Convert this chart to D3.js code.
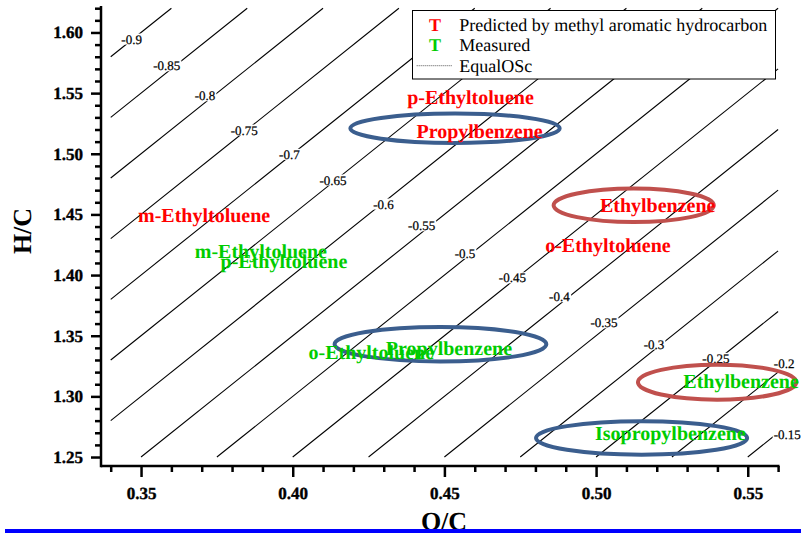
<!DOCTYPE html>
<html>
<head>
<meta charset="utf-8">
<script src="https://cdn.jsdelivr.net/npm/d3@7"></script>
<style>
  html, body { margin: 0; padding: 0; background: #fff; }
  svg { display: block; }
  text { text-rendering: geometricPrecision; }
</style>
</head>
<body>
<svg id="chart" width="801" height="539"></svg>
<script>
// ---------- data ----------
const xMajorTicks = [0.35, 0.40, 0.45, 0.50, 0.55];
const yMajorTicks = [1.25, 1.30, 1.35, 1.40, 1.45, 1.50, 1.55, 1.60];
const xMinorTicks = [0.34,0.36,0.37,0.38,0.39,0.41,0.42,0.43,0.44,0.46,0.47,0.48,0.49,0.51,0.52,0.53,0.54,0.56];
const yMinorTicks = [1.26,1.27,1.28,1.29,1.31,1.32,1.33,1.34,1.36,1.37,1.38,1.39,1.41,1.42,1.43,1.44,1.46,1.47,1.48,1.49,1.51,1.52,1.53,1.54,1.56,1.57,1.58,1.59,1.61,1.62];

// Iso-OSc lines: OSc = 2*O/C - H/C
const oscLevels = [-0.9,-0.85,-0.8,-0.75,-0.7,-0.65,-0.6,-0.55,-0.5,-0.45,-0.4,-0.35,-0.3,-0.25,-0.2,-0.15];
const oscLabelOC = [0.3469,0.3585,0.3711,0.3840,0.3989,0.4133,0.4299,0.4425,0.4568,0.4724,0.4879,0.5026,0.5191,0.5395,0.5620,0.5630];
const oscLabelHC = [1.5946,1.5726,1.5479,1.5196,1.4996,1.4784,1.4586,1.4407,1.4180,1.3978,1.3822,1.3607,1.3432,1.3314,1.3273,1.2690];
const oscGridOC = [0.34, 0.56];
const oscGridHC = [1.25, 1.62];

// Predicted by methyl aromatic hydrocarbon (red)
const predictedNames = ["p-Ethyltoluene","Propylbenzene","m-Ethyltoluene","Ethylbenzene","o-Ethyltoluene"];
const predictedOC = [0.4586, 0.4616, 0.3708, 0.5203, 0.5039];
const predictedHC = [1.5471, 1.5188, 1.4495, 1.4578, 1.4248];

// Measured (green)
const measuredNames = ["m-Ethyltoluene","p-Ethyltoluene","o-Ethyltoluene","Propylbenzene","Ethylbenzene","Isopropylbenzene"];
const measuredOC = [0.3895, 0.3971, 0.4259, 0.4515, 0.5478, 0.5245];
const measuredHC = [1.4198, 1.4116, 1.3366, 1.3396, 1.3129, 1.2696];

// Highlight ellipses (centre and half-axes in data units)
const ellipseOC = [0.4535, 0.5124, 0.4487, 0.5399, 0.5150];
const ellipseHC = [1.5210, 1.4575, 1.3430, 1.3117, 1.2657];
const ellipseROC = [0.0345, 0.0264, 0.0349, 0.0261, 0.0348];
const ellipseRHC = [0.0121, 0.0138, 0.0142, 0.0144, 0.0138];
const ellipseKind = ["blue","red","blue","red","blue"];

const legendLabels = ["Predicted by methyl aromatic hydrocarbon", "Measured", "EqualOSc"];

// ---------- drawing ----------
const svg = d3.select("#chart");
const serif = "'Liberation Serif', 'Times New Roman', serif";
const x = d3.scaleLinear().domain([0.3368, 0.5601]).range([101, 778.4]);
const y = d3.scaleLinear().domain([1.2426, 1.621]).range([466, 7]);

// contour lines
const gLines = svg.append("g");
oscLevels.forEach(L => {
  const lo = Math.max(oscGridOC[0], (oscGridHC[0] + L) / 2);
  const hi = Math.min(oscGridOC[1], (oscGridHC[1] + L) / 2);
  if (hi <= lo) return;
  gLines.append("line")
    .attr("x1", x(lo)).attr("y1", y(2 * lo - L))
    .attr("x2", x(hi)).attr("y2", y(2 * hi - L))
    .attr("stroke", "#000").attr("stroke-width", 1.1);
});

// contour labels with white background gap
const gLab = svg.append("g");
oscLevels.forEach((L, i) => {
  const g = gLab.append("g");
  const t = g.append("text")
    .attr("x", x(oscLabelOC[i])).attr("y", y(oscLabelHC[i]))
    .attr("dy", "0.35em")
    .attr("text-anchor", "middle")
    .attr("font-family", serif).attr("font-size", 13)
    .attr("fill", "#000").attr("stroke", "#000").attr("stroke-width", 0.25)
    .text(String(L));
  const bb = t.node().getBBox();
  g.insert("rect", "text")
    .attr("x", bb.x - 1).attr("y", bb.y + 2)
    .attr("width", bb.width + 2).attr("height", bb.height - 4)
    .attr("fill", "#fff");
});

// ellipses
const ellColor = { blue: "#3b5e8e", red: "#c0504d" };
svg.append("g").selectAll("ellipse").data(ellipseOC).join("ellipse")
  .attr("cx", (d, i) => x(d))
  .attr("cy", (d, i) => y(ellipseHC[i]))
  .attr("rx", (d, i) => x(d + ellipseROC[i]) - x(d))
  .attr("ry", (d, i) => y(ellipseHC[i]) - y(ellipseHC[i] + ellipseRHC[i]))
  .attr("fill", "none")
  .attr("stroke", (d, i) => ellColor[ellipseKind[i]])
  .attr("stroke-width", 4);

// compound labels
function drawLabels(names, ocs, hcs, color) {
  svg.append("g").selectAll("text").data(names).join("text")
    .attr("x", (d, i) => x(ocs[i]))
    .attr("y", (d, i) => y(hcs[i]))
    .attr("dy", "0.35em")
    .attr("text-anchor", "middle")
    .attr("font-family", serif).attr("font-weight", "bold").attr("font-size", 20)
    .attr("fill", color)
    .text(d => d);
}
drawLabels(predictedNames, predictedOC, predictedHC, "#ff0000");
drawLabels(measuredNames, measuredOC, measuredHC, "#00cc00");

// axes
function styleAxis(g) {
  g.attr("font-family", serif);
  g.select(".domain").remove();
  g.selectAll(".tick line").attr("stroke", "#000").attr("stroke-width", 2.5);
  g.selectAll(".tick text").attr("font-family", serif).attr("font-weight", "bold")
    .attr("font-size", 17).attr("fill", "#000")
    .attr("stroke", "#000").attr("stroke-width", 0.4);
}
const gx = svg.append("g").attr("transform", "translate(0,466)");
gx.append("g").call(d3.axisBottom(x).tickValues(xMinorTicks).tickSize(6).tickFormat("")).call(styleAxis);
gx.append("g").call(d3.axisBottom(x).tickValues(xMajorTicks).tickSize(11).tickPadding(10).tickFormat(d3.format(".2f"))).call(styleAxis);
gx.append("line").attr("x1", 101).attr("x2", 779.5).attr("y1", 0).attr("y2", 0)
  .attr("stroke", "#000").attr("stroke-width", 2.5);

const gy = svg.append("g").attr("transform", "translate(101,0)");
gy.append("g").call(d3.axisLeft(y).tickValues(yMinorTicks).tickSize(6).tickFormat("")).call(styleAxis);
gy.append("g").call(d3.axisLeft(y).tickValues(yMajorTicks).tickSize(10).tickPadding(8).tickFormat(d3.format(".2f"))).call(styleAxis);
gy.append("line").attr("x1", 0).attr("x2", 0).attr("y1", 6).attr("y2", 467.2)
  .attr("stroke", "#000").attr("stroke-width", 2.5);

// axis titles
svg.append("text")
  .attr("transform", "translate(22,231) rotate(-90)")
  .attr("dy", "0.35em")
  .attr("text-anchor", "middle")
  .attr("font-family", serif).attr("font-weight", "bold").attr("font-size", 26)
  .text("H/C");
svg.append("text")
  .attr("x", 444).attr("y", 530)
  .attr("text-anchor", "middle")
  .attr("font-family", serif).attr("font-weight", "bold").attr("font-size", 26)
  .text("O/C");

// legend
const lg = svg.append("g");
lg.append("rect").attr("x", 412.5).attr("y", 10.5).attr("width", 363).attr("height", 68.5)
  .attr("fill", "#fff").attr("stroke", "#000").attr("stroke-width", 1);
const rowsY = [24.3, 45, 65.7];
const markColors = ["#ff0000", "#00cc00"];
[0, 1].forEach(i => {
  lg.append("text").attr("x", 435).attr("y", rowsY[i]).attr("dy", "0.35em")
    .attr("text-anchor", "middle")
    .attr("font-family", serif).attr("font-weight", "bold").attr("font-size", 18)
    .attr("fill", markColors[i]).text("T");
});
lg.append("line").attr("x1", 416.7).attr("x2", 451.7).attr("y1", rowsY[2]).attr("y2", rowsY[2])
  .attr("stroke", "#555").attr("stroke-width", 1).attr("stroke-dasharray", "1,1");
legendLabels.forEach((t, i) => {
  lg.append("text").attr("x", 459.3).attr("y", rowsY[i]).attr("dy", "0.35em")
    .attr("font-family", serif).attr("font-size", 18).attr("fill", "#000").text(t);
});

// blue bar at bottom
svg.append("rect").attr("x", 5).attr("y", 529).attr("width", 796).attr("height", 4).attr("fill", "#0000ff");
</script>
</body>
</html>
